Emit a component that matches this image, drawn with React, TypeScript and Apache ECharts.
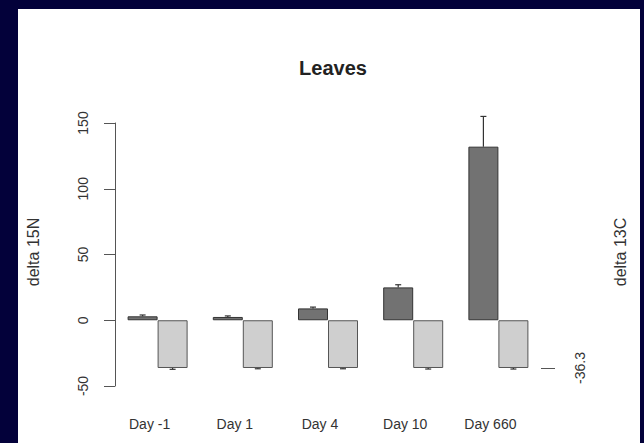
import React, { useEffect, useRef } from "react";
import * as echarts from "echarts";

const categories = ["Day -1", "Day 1", "Day 4", "Day 10", "Day 660"];
const delta15N = [3, 2.5, 9, 25, 132];
const delta15NErr = [1, 0.8, 1, 2, 23];
const delta13C = [-36.3, -36.3, -36.3, -36.3, -36.3];
const delta13CErr = [1, 0.6, 0.6, 0.8, 0.8];
const leftTicks = { min: -50, max: 150, interval: 50 };
const rightTickValues = [-36.3];

const FONT = "Liberation Sans, Arial, sans-serif";

export default function App() {
  const ref = useRef<HTMLDivElement>(null);
  useEffect(() => {
    if (!ref.current) return;
    const chart = echarts.init(ref.current, null, { renderer: "svg" });
    const barW = 30;
    const errItem = (vals: number[], errs: number[], offset: number, dir: number) =>
      (params: any, api: any) => {
        const i = api.value(0);
        const v = vals[i];
        const e = errs[i];
        const p0 = api.coord([i, v]);
        const p1 = api.coord([i, v + dir * e]);
        const x = p0[0] + offset;
        const cap = 3;
        const style = { stroke: "#333", lineWidth: 1.2 };
        return {
          type: "group",
          children: [
            { type: "line", shape: { x1: x, y1: p0[1], x2: x, y2: p1[1] }, style },
            { type: "line", shape: { x1: x - cap, y1: p1[1], x2: x + cap, y2: p1[1] }, style },
          ],
        };
      };
    chart.setOption({
      animation: false,
      backgroundColor: "#03013a",
      graphic: [
        {
          type: "rect",
          z: -10,
          shape: { x: 18, y: 9, width: 622, height: 440 },
          style: { fill: "#ffffff" },
        },
        {
          type: "text",
          x: 33,
          y: 252,
          rotation: Math.PI / 2,
          style: {
            text: "delta 15N",
            fill: "#333",
            font: `16px ${FONT}`,
            align: "center",
            verticalAlign: "middle",
          },
        },
        {
          type: "text",
          x: 620,
          y: 252,
          rotation: Math.PI / 2,
          style: {
            text: "delta 13C",
            fill: "#333",
            font: `16px ${FONT}`,
            align: "center",
            verticalAlign: "middle",
          },
        },
      ],
      title: {
        text: "Leaves",
        left: 328,
        top: 53,
        textAlign: "center",
        textStyle: { fontFamily: FONT, fontWeight: "bold", fontSize: 20, color: "#222" },
      },
      grid: { left: 115, right: 103, top: 123, bottom: 57 },
      xAxis: {
        type: "category",
        data: categories,
        axisLine: { show: false },
        axisTick: { show: false },
        axisLabel: {
          margin: 31,
          padding: [0, 16, 0, 0],
          fontFamily: FONT,
          fontSize: 14,
          color: "#333",
        },
      },
      yAxis: [
        {
          type: "value",
          min: leftTicks.min,
          max: leftTicks.max,
          interval: leftTicks.interval,
          axisLine: { show: true, lineStyle: { color: "#555", width: 1 } },
          axisTick: { show: true, length: 11, lineStyle: { color: "#555" } },
          splitLine: { show: false },
          axisLabel: { rotate: 90, margin: 25, fontFamily: FONT, fontSize: 14, color: "#333" },
        },
        {
          type: "value",
          position: "right",
          min: leftTicks.min,
          max: leftTicks.max,
          axisLine: { show: false },
          axisTick: { show: true, length: 14, customValues: rightTickValues, lineStyle: { color: "#555" } },
          splitLine: { show: false },
          axisLabel: {
            rotate: 90,
            margin: 32,
            customValues: rightTickValues,
            formatter: (v: number) => String(v),
            fontFamily: FONT,
            fontSize: 14,
            color: "#333",
          },
        },
      ],
      series: [
        {
          type: "bar",
          data: delta15N,
          barWidth: barW,
          barGap: "0%",
          itemStyle: { color: "#727272", borderColor: "#333", borderWidth: 1 },
        },
        {
          type: "bar",
          data: delta13C,
          barWidth: barW,
          barGap: "0%",
          itemStyle: { color: "#cfcfcf", borderColor: "#555", borderWidth: 1 },
        },
        {
          type: "custom",
          clip: false,
          z: 5,
          data: categories.map((_, i) => [i]),
          renderItem: errItem(delta15N, delta15NErr, -barW / 2, 1),
        },
        {
          type: "custom",
          clip: false,
          z: 5,
          data: categories.map((_, i) => [i]),
          renderItem: errItem(delta13C, delta13CErr, barW / 2, -1),
        },
      ],
    });
    return () => chart.dispose();
  }, []);
  return (
    <div
      ref={ref}
      style={{ position: "fixed", left: 0, top: 0, width: 644, height: 443 }}
    />
  );
}
